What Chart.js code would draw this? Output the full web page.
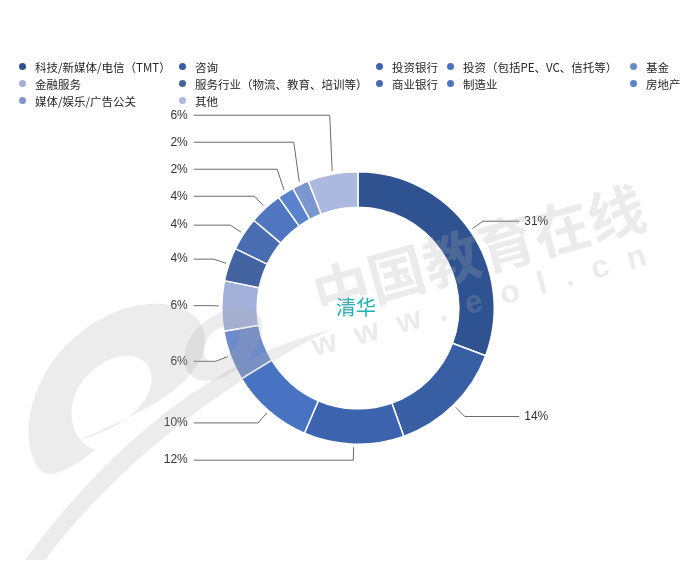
<!DOCTYPE html>
<html>
<head>
<meta charset="utf-8">
<script src="https://cdn.jsdelivr.net/npm/chart.js@4.4.0/dist/chart.umd.min.js"></script>
<style>
html,body{margin:0;padding:0;background:#fff;}
#wrap{position:relative;width:700px;height:575px;overflow:hidden;background:#fff;}
#c{position:absolute;left:0;top:0;}
#legend{position:absolute;left:19px;top:58px;display:grid;grid-template-columns:160px 197px 71px 183px auto;grid-auto-rows:17px;font:11.5px "Noto Sans CJK SC","Noto Sans",sans-serif;color:#262626;}
.item{display:flex;align-items:center;white-space:nowrap;}
.dot{width:7px;height:7px;border-radius:50%;margin-right:9px;flex:none;}
.wm{position:absolute;transform:translate(-50%,-50%) rotate(-15.5deg);white-space:nowrap;color:rgba(170,170,170,0.24);pointer-events:none;font-family:"Noto Sans CJK SC",sans-serif;font-weight:bold;}
#logo{position:absolute;left:0;top:0;pointer-events:none;}
</style>
</head>
<body>
<div id="wrap">
  <canvas id="c" width="700" height="575"></canvas>
  <div id="legend"></div>
  <svg id="logo" width="700" height="575">
    <g fill="rgba(170,170,170,0.22)" fill-rule="evenodd">
      <path d="M40,470 C10,430 40,340 120,310 C180,290 220,320 200,360 C180,400 120,420 80,440 C120,430 160,400 150,370 C140,345 100,355 80,385 C65,410 70,440 95,450 C70,470 50,480 40,470 Z"/>
      <path d="M195,330 C225,300 265,300 262,330 C258,360 225,385 200,380 C180,375 180,350 195,330 Z M205,345 C210,325 240,318 240,335 C240,352 215,365 208,360 C203,356 203,350 205,345 Z"/>
      <path d="M25,560 C90,470 200,360 330,330 C230,380 120,460 45,560 Z"/>
    </g>
  </svg>
  <div class="wm" style="left:478px;top:248px;font-size:57px;">中国教育在线</div>
  <div class="wm" style="left:488px;top:298px;font-size:32px;letter-spacing:19px;font-family:'Liberation Sans',Arial,sans-serif;">www.eol.cn</div>
</div>
<script>
const categories = ["科技/新媒体/电信（TMT）","咨询","投资银行","投资（包括PE、VC、信托等）","基金","金融服务","服务行业（物流、教育、培训等）","商业银行","制造业","房地产","媒体/娱乐/广告公关","其他"];
const values = [31,14,12,10,6,6,4,4,4,2,2,6];
const colors = ["#2f5391","#385ea3","#3c64ae","#4873c2","#6d8acb","#a3b1da","#42639f","#4a6cb0","#4f76bf","#5a82cf","#7c96d0","#abb8df"];
const centerTitle = "清华";

// HTML legend built from the arrays
const lg = document.getElementById('legend');
categories.forEach((name,i)=>{
  const it=document.createElement('div'); it.className='item';
  const d=document.createElement('span'); d.className='dot'; d.style.background=colors[i];
  const t=document.createElement('span'); t.textContent=name;
  it.appendChild(d); it.appendChild(t); lg.appendChild(it);
});

const leaderPlugin = {
  id:'leaders',
  afterDatasetsDraw(chart){
    const ctx=chart.ctx;
    const meta=chart.getDatasetMeta(0);
    const items=[];
    meta.data.forEach((arc,i)=>{
      const p=arc.getProps(['x','y','startAngle','endAngle','outerRadius'],true);
      const a=(p.startAngle+p.endAngle)/2, c=Math.cos(a), s=Math.sin(a);
      items.push({i,cx:p.x,cy:p.y,R:p.outerRadius,
        p1x:p.x+(p.outerRadius+3)*c, p1y:p.y+(p.outerRadius+3)*s,
        ex:p.x+(p.outerRadius+16)*c, ly:p.y+(p.outerRadius+16)*s, right:c>=0});
    });
    const gap=27;
    [true,false].forEach(side=>{
      const list=items.filter(it=>it.right===side).sort((a,b)=>b.ly-a.ly);
      for(let k=1;k<list.length;k++){
        if(list[k].ly>list[k-1].ly-gap) list[k].ly=list[k-1].ly-gap;
      }
    });
    ctx.save();
    ctx.strokeStyle='#6b6b6b'; ctx.lineWidth=1;
    ctx.font='12px "Liberation Sans", Arial, sans-serif';
    ctx.fillStyle='#333'; ctx.textBaseline='middle';
    items.forEach(it=>{
      const endX = it.right ? it.cx+it.R+25 : it.cx-it.R-28;
      ctx.beginPath();
      ctx.moveTo(it.p1x,it.p1y);
      ctx.lineTo(it.ex,it.ly);
      ctx.lineTo(endX,it.ly);
      ctx.stroke();
      const txt=values[it.i]+'%';
      if(it.right){ctx.textAlign='left'; ctx.fillText(txt,endX+5,it.ly);}
      else{ctx.textAlign='right'; ctx.fillText(txt,endX-6,it.ly);}
    });
    // centre title
    const a0=items[0];
    ctx.font='20px "Noto Sans CJK SC", sans-serif';
    ctx.fillStyle='#1fb2b5'; ctx.textAlign='center';
    ctx.fillText(centerTitle,a0.cx-2,a0.cy-1);
    ctx.restore();
  }
};

new Chart(document.getElementById('c'),{
  type:'doughnut',
  data:{labels:categories,datasets:[{data:values,backgroundColor:colors,borderColor:'#ffffff',borderWidth:1.5,hoverOffset:0}]},
  options:{
    responsive:false,animation:false,cutout:'74%',
    layout:{padding:{left:221,top:171,right:205,bottom:130}},
    plugins:{legend:{display:false},tooltip:{enabled:false}},
    events:[]
  },
  plugins:[leaderPlugin]
});
</script>
</body>
</html>
